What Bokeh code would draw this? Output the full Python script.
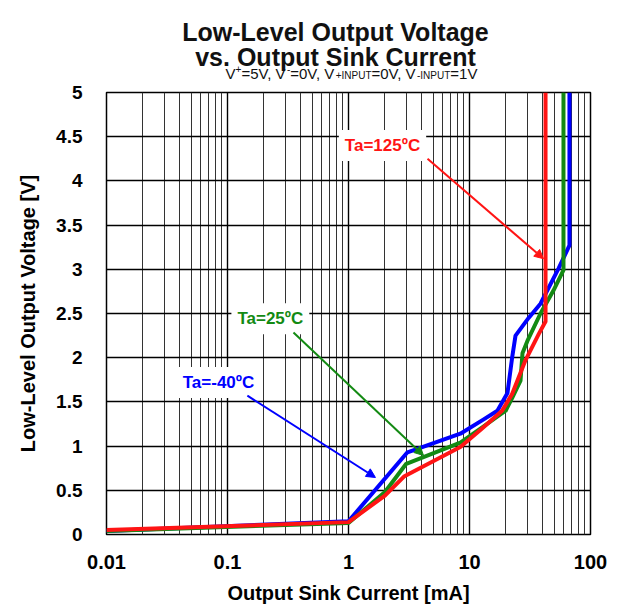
from bokeh.plotting import figure
from bokeh.layouts import column
from bokeh.models import Range1d, FixedTicker, Label, Arrow, NormalHead
from bokeh.core.properties import value
from bokeh.embed import file_html
from bokeh.resources import INLINE

# ---- data ----
x_ticks = [0.01, 0.1, 1, 10, 100]
x_tick_labels = ["0.01", "0.1", "1", "10", "100"]
y_ticks = [0, 0.5, 1, 1.5, 2, 2.5, 3, 3.5, 4, 4.5, 5]
y_tick_labels = ["0", "0.5", "1", "1.5", "2", "2.5", "3", "3.5", "4", "4.5", "5"]

i_m40 = [0.01, 1, 3.07, 8.4, 13, 17, 20.6, 22.5, 24, 30.8, 38.6, 54.5, 67, 67]
v_m40 = [0.04, 0.15, 0.93, 1.14, 1.30, 1.40, 1.60, 2.00, 2.25, 2.45, 2.61, 3.01, 3.27, 5.0]

i_25 = [0.01, 1, 2.0, 3.0, 8.4, 13, 19.9, 22.6, 26.4, 27.4, 30.1, 38.6, 49.4, 59.8, 59.8]
v_25 = [0.04, 0.13, 0.48, 0.80, 1.04, 1.22, 1.40, 1.55, 1.74, 2.05, 2.19, 2.50, 2.76, 2.99, 5.0]

i_125 = [0.01, 1, 2.0, 2.9, 8.4, 12.5, 18.6, 22.5, 29, 37.4, 42.5, 42.5]
v_125 = [0.05, 0.14, 0.44, 0.66, 0.99, 1.19, 1.40, 1.59, 1.97, 2.27, 2.41, 5.0]

series_names = ["Ta=-40ºC", "Ta=25ºC", "Ta=125ºC"]
series_colors = ["#0000ff", "#138a13", "#ff1414"]

title_lines = ["Low-Level Output Voltage", "vs. Output Sink Current"]
subtitle_parts = [("V", "n"), ("+", "sup"), ("=5V, V", "n"), ("-", "sup"), ("=0V, V", "n"),
                  ("+INPUT", "sub"), ("=0V, V", "n"), ("-INPUT", "sub"), ("=1V", "n")]
x_label = "Output Sink Current [mA]"
y_label = "Low-Level Output Voltage [V]"

FONT = "Liberation Sans"
W = 618
TH = 81
TOP = 92          # page row of the main frame's top edge
FL, FR = 106, 590  # frame edges in page pixels

# ---- title figure (its frame spans the same columns as the main frame) ----
t = figure(width=W, height=TH, output_backend="svg", toolbar_location=None, title=None,
           x_range=Range1d(FL, FR), y_range=Range1d(0, TH),
           x_axis_location=None, y_axis_location=None,
           min_border_left=FL, min_border_right=W - FR,
           min_border_top=0, min_border_bottom=0)
t.outline_line_color = None
t.xgrid.visible = False
t.ygrid.visible = False
t.background_fill_color = "white"
t.border_fill_color = "white"

t.text(x=[335, 335], y=[TH - 31, TH - 56], text=title_lines, text_font=value(FONT),
       text_font_style="bold", text_font_size=value("25px"), text_align="center",
       text_baseline="alphabetic", text_color="#111111")

widths = {"V": 667, "+": 584, "=": 584, "5": 556, "0": 556, "1": 556, ",": 278, " ": 278,
          "-": 333, "I": 278, "N": 722, "P": 667, "U": 722, "T": 611}
sizes = {"n": 15, "sup": 10, "sub": 10}
shift = {"n": 0, "sup": 5, "sub": -2}
total = sum(sum(widths[ch] for ch in s) * sizes[k] / 1000 for s, k in subtitle_parts)
xpos = 351 - total / 2
for s, k in subtitle_parts:
    t.text(x=[xpos], y=[TH - 73 + shift[k]], text=[s], text_font=value(FONT),
           text_font_size=value(f"{sizes[k]}px"), text_align="left",
           text_baseline="alphabetic", text_color="#111111")
    xpos += sum(widths[ch] for ch in s) * sizes[k] / 1000

# ---- main figure ----
p = figure(width=W, height=606 - TH, x_axis_type="log", output_backend="svg",
           toolbar_location=None, x_range=Range1d(0.01, 100), y_range=Range1d(0, 5),
           min_border_left=FL, min_border_right=W - FR, min_border_top=TOP - TH,
           min_border_bottom=72)
p.background_fill_color = "white"
p.border_fill_color = "white"
p.outline_line_color = "black"
p.outline_line_width = 1.5

minor = [k * 10 ** e for e in range(-2, 2) for k in range(2, 10)]
p.xaxis.ticker = FixedTicker(ticks=x_ticks, minor_ticks=minor)
p.yaxis.ticker = FixedTicker(ticks=y_ticks)
p.xaxis.major_label_overrides = {tk: l for tk, l in zip(x_ticks, x_tick_labels)}
p.yaxis.major_label_overrides = {tk: l for tk, l in zip(y_ticks, y_tick_labels)}

for ax in (p.xaxis[0], p.yaxis[0]):
    ax.major_tick_line_color = None
    ax.minor_tick_line_color = None
    ax.axis_line_color = None
    ax.major_label_text_font = FONT
    ax.major_label_text_font_style = "bold"
    ax.major_label_text_color = "black"
    ax.axis_label_text_font = FONT
    ax.axis_label_text_font_style = "bold"
    ax.axis_label_text_font_size = "20px"
    ax.axis_label_text_color = "black"

p.xaxis.major_label_text_font_size = "20px"
p.yaxis.major_label_text_font_size = "19px"
p.xaxis.major_label_standoff = 14
p.yaxis.major_label_standoff = 18
p.xaxis.axis_label_standoff = 10
p.yaxis.axis_label_standoff = 14
p.xaxis.axis_label = x_label
p.yaxis.axis_label = y_label

p.xgrid.grid_line_color = "black"
p.xgrid.grid_line_width = 1.4
p.xgrid.minor_grid_line_color = "#333333"
p.xgrid.minor_grid_line_width = 1
p.ygrid.grid_line_color = "black"
p.ygrid.grid_line_width = 1.5

for xs, ys, c in zip([i_m40, i_25, i_125], [v_m40, v_25, v_125], series_colors):
    p.line(xs, ys, line_color=c, line_width=4, line_join="round")

# annotations (text label, arrow start, arrow end)
annots = [
    (series_names[2], series_colors[2], 1.91, 4.40, 4.5, 4.25, 40.9, 3.12),
    (series_names[1], series_colors[1], 0.226, 2.44, 0.351, 2.285, 4.17, 0.894),
    (series_names[0], series_colors[0], 0.0843, 1.72, 0.146, 1.57, 1.67, 0.645),
]
for txt, c, lx, ly, xs, ys, xe, ye in annots:
    p.add_layout(Label(x=lx, y=ly, text=txt, text_color=c, text_font=FONT,
                       text_font_style="bold", text_font_size="17px",
                       text_align="center", text_baseline="middle",
                       background_fill_color="white", padding=6))
    p.add_layout(Arrow(x_start=xs, y_start=ys, x_end=xe, y_end=ye, line_color=c, line_width=2,
                       end=NormalHead(size=9, fill_color=c, line_color=c)))

layout = column(t, p, spacing=0)
open("out.html", "w").write(file_html(layout, INLINE))
